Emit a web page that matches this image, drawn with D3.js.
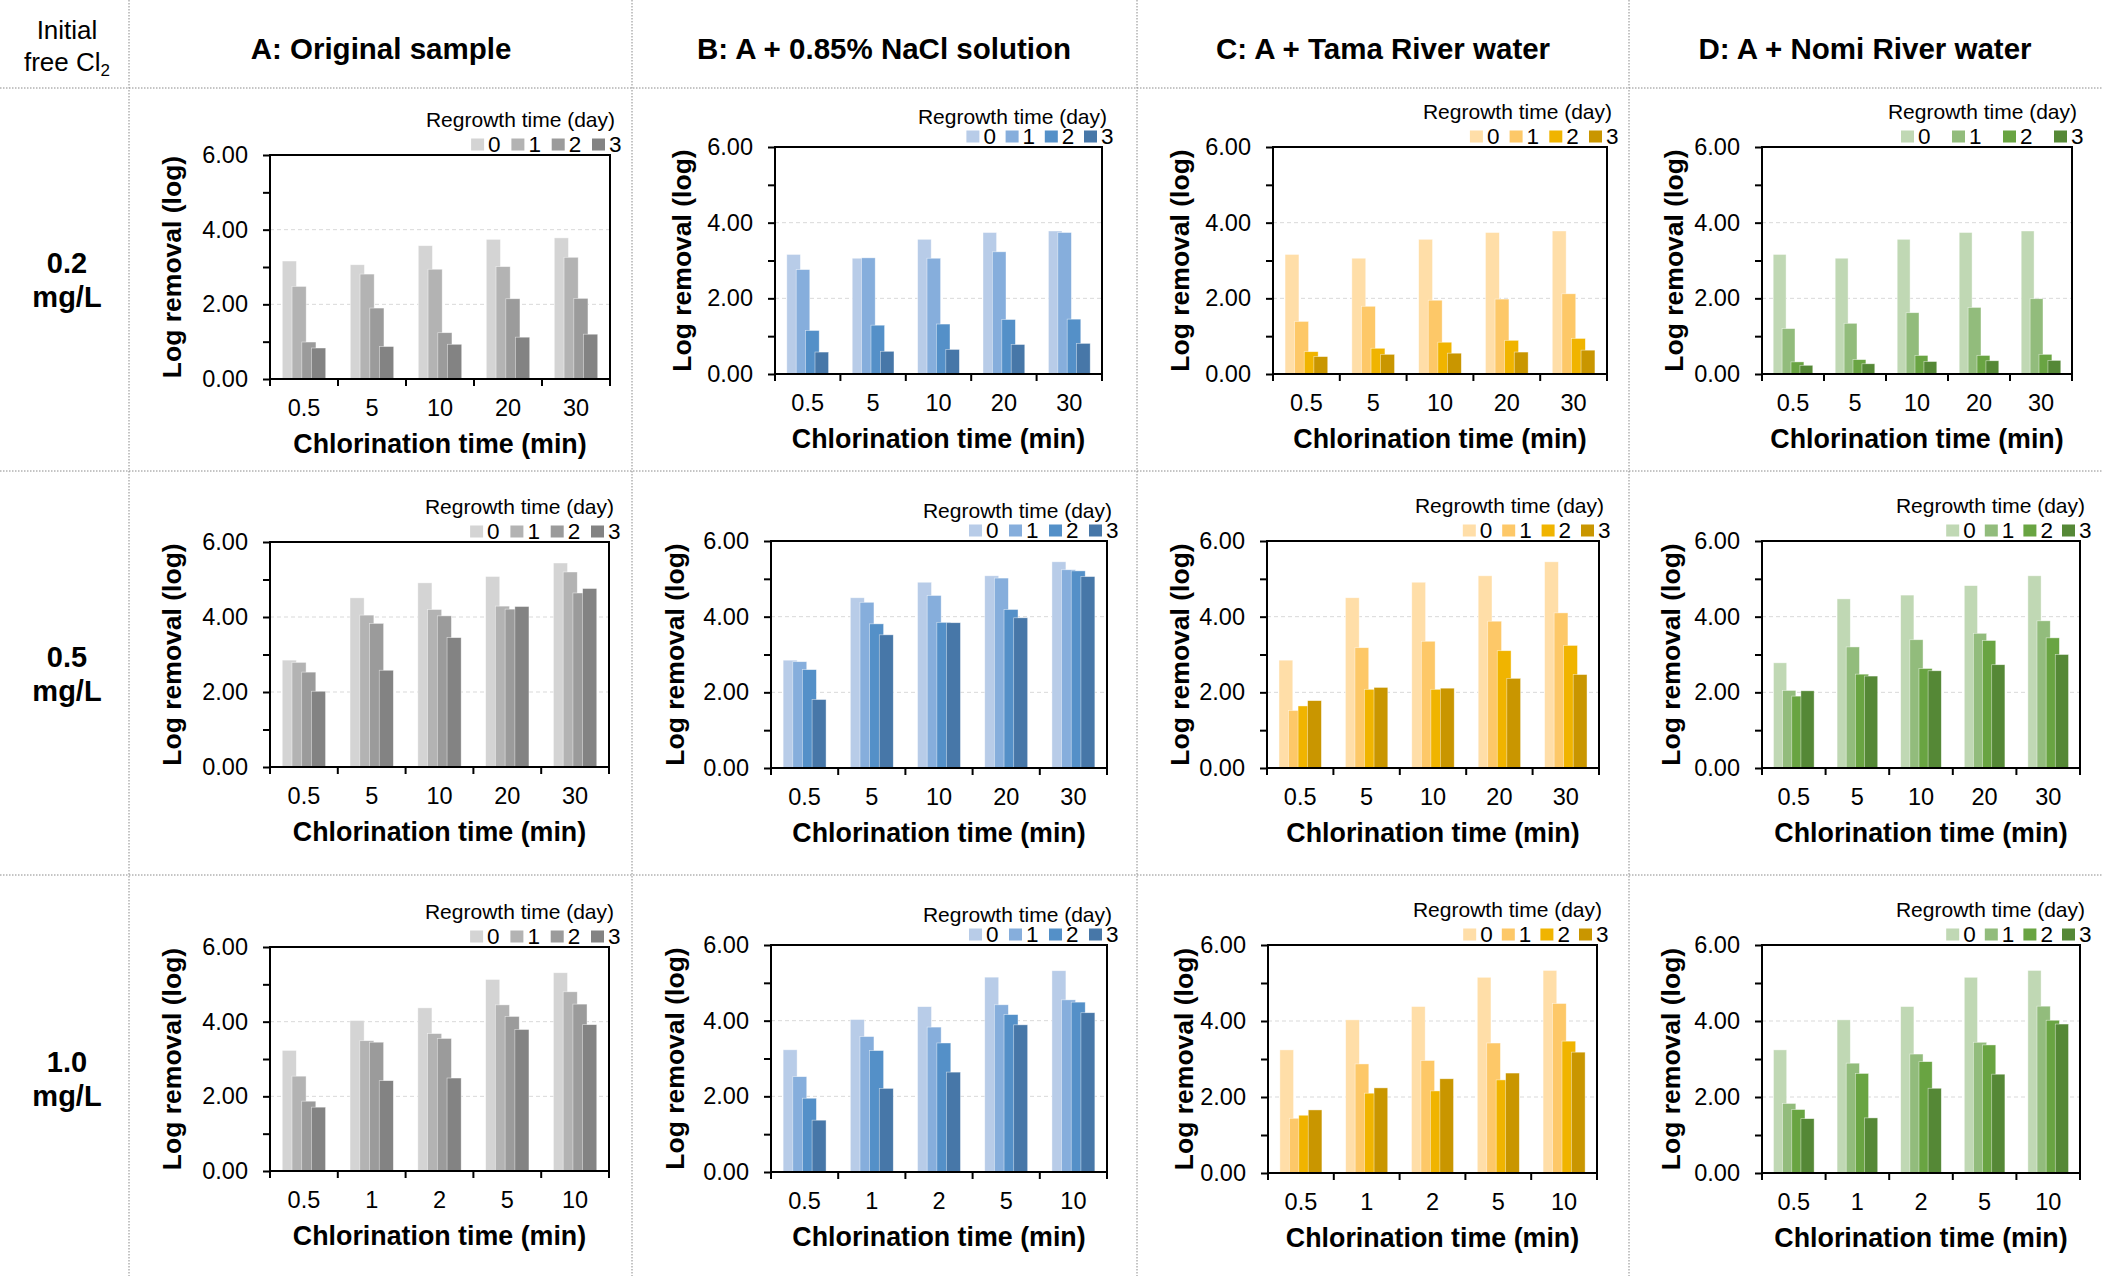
<!DOCTYPE html>
<html>
<head>
<meta charset="utf-8">
<script src="https://cdn.jsdelivr.net/npm/d3@7"></script>
<style>
  body { margin: 0; background: #fff; }
  svg { display: block; }
  text { font-family: "Liberation Sans", Arial, sans-serif; fill: #000; }
</style>
</head>
<body>
<svg id="fig" width="2116" height="1276"></svg>
<script>
// ---- categories and labels ----
const regrowthDays = ["0", "1", "2", "3"];
const chlorTimesLong = ["0.5", "5", "10", "20", "30"];   // 0.2 and 0.5 mg/L runs
const chlorTimesShort = ["0.5", "1", "2", "5", "10"];    // 1.0 mg/L runs
const sampleTitles = ["A: Original sample", "B: A + 0.85% NaCl solution",
                      "C: A + Tama River water", "D: A + Nomi River water"];
const doseLabels = ["0.2", "0.5", "1.0"];
const yTicks = [0, 1, 2, 3, 4, 5, 6];
const yGrid = [2, 4];

// ---- log removal: one row per regrowth day, one value per chlorination time ----
const original02 = [[3.16, 3.06, 3.57, 3.74, 3.78], [2.48, 2.81, 2.94, 3.01, 3.26],
                    [0.99, 1.90, 1.24, 2.15, 2.16], [0.83, 0.87, 0.93, 1.12, 1.20]];
const nacl02     = [[3.16, 3.06, 3.56, 3.74, 3.78], [2.76, 3.07, 3.06, 3.23, 3.74],
                    [1.15, 1.29, 1.32, 1.44, 1.45], [0.58, 0.60, 0.65, 0.78, 0.81]];
const tama02     = [[3.16, 3.06, 3.56, 3.74, 3.78], [1.39, 1.79, 1.95, 1.98, 2.12],
                    [0.59, 0.68, 0.84, 0.89, 0.94], [0.46, 0.52, 0.55, 0.58, 0.63]];
const nomi02     = [[3.16, 3.06, 3.56, 3.74, 3.78], [1.20, 1.34, 1.62, 1.76, 1.99],
                    [0.32, 0.38, 0.49, 0.49, 0.52], [0.23, 0.27, 0.33, 0.35, 0.36]];

const original05 = [[2.85, 4.51, 4.91, 5.08, 5.44], [2.79, 4.05, 4.20, 4.29, 5.20],
                    [2.53, 3.83, 4.03, 4.21, 4.64], [2.02, 2.58, 3.45, 4.28, 4.76]];
const nacl05     = [[2.85, 4.50, 4.91, 5.08, 5.45], [2.81, 4.38, 4.56, 5.02, 5.24],
                    [2.60, 3.81, 3.85, 4.19, 5.21], [1.81, 3.52, 3.84, 3.97, 5.06]];
const tama05     = [[2.85, 4.50, 4.91, 5.08, 5.45], [1.52, 3.18, 3.35, 3.88, 4.10],
                    [1.64, 2.08, 2.08, 3.10, 3.24], [1.78, 2.13, 2.11, 2.37, 2.47]];
const nomi05     = [[2.78, 4.47, 4.57, 4.82, 5.08], [2.05, 3.20, 3.39, 3.56, 3.89],
                    [1.90, 2.48, 2.63, 3.37, 3.44], [2.04, 2.43, 2.57, 2.73, 3.00]];

const original10 = [[3.23, 4.03, 4.37, 5.13, 5.31], [2.54, 3.49, 3.68, 4.45, 4.80],
                    [1.87, 3.45, 3.55, 4.14, 4.47], [1.71, 2.42, 2.49, 3.79, 3.92]];
const nacl10     = [[3.23, 4.03, 4.37, 5.15, 5.32], [2.52, 3.58, 3.83, 4.42, 4.55],
                    [1.95, 3.21, 3.41, 4.16, 4.49], [1.37, 2.21, 2.64, 3.89, 4.21]];
const tama10     = [[3.24, 4.03, 4.38, 5.15, 5.33], [1.44, 2.87, 2.96, 3.42, 4.46],
                    [1.52, 2.10, 2.16, 2.45, 3.47], [1.66, 2.24, 2.48, 2.63, 3.18]];
const nomi10     = [[3.24, 4.03, 4.38, 5.15, 5.33], [1.83, 2.89, 3.13, 3.44, 4.39],
                    [1.67, 2.62, 2.93, 3.37, 4.02], [1.43, 1.45, 2.23, 2.60, 3.92]];

// ---- shades for regrowth days 0..3 ----
const greyShades   = ["#d4d4d4", "#b3b3b3", "#9b9b9b", "#838383"];
const blueShades   = ["#b8cce8", "#86aedc", "#5490c8", "#4777a8"];
const yellowShades = ["#ffdea8", "#fdc868", "#f0b400", "#c99600"];
const greenShades  = ["#c0d8b4", "#92bc7c", "#69a442", "#558836"];

// ---- panel grid ----
const panelData = [
  [original02, nacl02, tama02, nomi02],
  [original05, nacl05, tama05, nomi05],
  [original10, nacl10, tama10, nomi10]
];
const panelTimes = [chlorTimesLong, chlorTimesLong, chlorTimesShort];
const columnShades = [greyShades, blueShades, yellowShades, greenShades];

// plot frames [left, top, right, bottom]
const frames = [
  [[270, 155, 610, 379], [775, 147, 1102, 374], [1273, 147, 1607, 374], [1762, 147, 2072, 374]],
  [[270, 542, 609, 767], [771, 541, 1107, 768], [1267, 541, 1599, 768], [1762, 541, 2080, 768]],
  [[270, 947, 609, 1171], [771, 945, 1107, 1172], [1268, 945, 1597, 1173], [1762, 945, 2080, 1173]]
];
const yTitleGap = [[89, 84, 84, 79], [89, 87, 78, 82], [89, 87, 75, 82]];
const legendStep = [[40.3, 39.2, 39.7, 51], [40.3, 40, 39.4, 38.6], [40.3, 40, 38.6, 38.6]];
const legendTitleLift = [28.5, 23.5, 28.5, 28.5];

const svg = d3.select("#fig");
const FONT = '"Liberation Sans", Arial, sans-serif';

// ---- cell separators ----
const sepColor = "#8a8a8a";
const vSeps = [129, 632, 1137, 1629];
const hSeps = [88, 471, 875];
svg.append("g").selectAll("line").data(vSeps).join("line")
  .attr("x1", d => d).attr("x2", d => d).attr("y1", 0).attr("y2", 1276)
  .attr("stroke", sepColor).attr("stroke-width", 1).attr("stroke-dasharray", "1.5,1.5");
svg.append("g").selectAll("line").data(hSeps).join("line")
  .attr("x1", 0).attr("x2", 2102).attr("y1", d => d).attr("y2", d => d)
  .attr("stroke", sepColor).attr("stroke-width", 1).attr("stroke-dasharray", "1.5,1.5");

// ---- header ----
const corner = svg.append("g").attr("font-size", 26).attr("text-anchor", "middle");
corner.append("text").attr("x", 67).attr("y", 39).text("Initial");
const cl = corner.append("text").attr("x", 67).attr("y", 71);
cl.append("tspan").text("free Cl");
cl.append("tspan").attr("font-size", 17).attr("dy", 5).text("2");

const colCenters = [381, 884, 1383, 1865];
svg.append("g").selectAll("text").data(sampleTitles).join("text")
  .attr("x", (d, i) => colCenters[i]).attr("y", 59)
  .attr("text-anchor", "middle").attr("font-size", 29.5).attr("font-weight", "bold")
  .text(d => d);

// ---- row labels ----
const rowMid = [280, 674, 1079];
doseLabels.forEach((lab, r) => {
  const t = svg.append("text").attr("text-anchor", "middle")
    .attr("font-size", 29).attr("font-weight", "bold");
  t.append("tspan").attr("x", 67).attr("y", rowMid[r] - 7).text(lab);
  t.append("tspan").attr("x", 67).attr("y", rowMid[r] + 27).text("mg/L");
});

// ---- one clustered bar panel ----
function drawPanel(r, c) {
  const [x0, y0, x1, y1] = frames[r][c];
  const cats = panelTimes[r];
  const series = panelData[r][c];
  const shades = columnShades[c];
  const g = svg.append("g");

  const x = d3.scaleBand().domain(cats).range([x0, x1]).padding(0);
  const y = d3.scaleLinear().domain([0, 6]).range([y1, y0]);

  // dashed gridlines
  g.append("g").selectAll("line").data(yGrid).join("line")
    .attr("x1", x0).attr("x2", x1).attr("y1", d => y(d)).attr("y2", d => y(d))
    .attr("stroke", "#d9d9d9").attr("stroke-width", 1).attr("stroke-dasharray", "4,3");

  // overlapping clustered bars, later days drawn on top
  const band = x.bandwidth();
  const barW = 0.208 * band;
  const step = 0.1437 * band;
  const offset = (band - (3 * step + barW)) / 2;
  series.forEach((vals, i) => {
    g.append("g").selectAll("rect")
      .data(vals.map((v, j) => ({ v, cat: cats[j] })))
      .join("rect")
      .attr("x", d => x(d.cat) + offset + i * step)
      .attr("width", barW)
      .attr("y", d => y(d.v))
      .attr("height", d => y(0) - y(d.v))
      .attr("fill", shades[i])
      .attr("stroke", "#ffffff").attr("stroke-width", 0.7).attr("stroke-opacity", 0.6);
  });

  // y axis: ticks every 1, labels every 2
  const yAxis = d3.axisLeft(y).tickValues(yTicks).tickSize(7).tickPadding(15)
    .tickFormat(d => d % 2 === 0 ? d3.format(".2f")(d) : "");
  const ya = g.append("g").attr("transform", `translate(${x0},0)`).call(yAxis);
  ya.select(".domain").remove();
  ya.selectAll("line").attr("stroke", "#000").attr("stroke-width", 2);
  ya.selectAll("text").attr("font-size", 23.5).attr("font-family", FONT).attr("fill", "#000");

  // x axis: ticks at category boundaries, labels centred in each band
  const xa = g.append("g").attr("transform", `translate(0,${y1})`)
    .call(d3.axisBottom(x).tickSize(0).tickPadding(20));
  xa.select(".domain").remove();
  xa.selectAll("text").attr("font-size", 23.5).attr("font-family", FONT).attr("fill", "#000");
  const bounds = cats.map(cv => x(cv)).concat([x1]);
  g.append("g").selectAll("line").data(bounds).join("line")
    .attr("x1", d => d).attr("x2", d => d).attr("y1", y1).attr("y2", y1 + 7)
    .attr("stroke", "#000").attr("stroke-width", 2);

  // plot frame
  g.append("rect").attr("x", x0).attr("y", y0).attr("width", x1 - x0).attr("height", y1 - y0)
    .attr("fill", "none").attr("stroke", "#000").attr("stroke-width", 2);

  // axis titles
  g.append("text")
    .attr("transform", `translate(${x0 - yTitleGap[r][c]},${(y0 + y1) / 2}) rotate(-90)`)
    .attr("text-anchor", "middle").attr("font-size", 26.5).attr("font-weight", "bold")
    .text("Log removal (log)");
  g.append("text")
    .attr("x", (x0 + x1) / 2).attr("y", y1 + 74)
    .attr("text-anchor", "middle").attr("font-size", 26.8).attr("font-weight", "bold")
    .text("Chlorination time (min)");

  // legend
  g.append("text").attr("x", x1 + 5).attr("y", y0 - legendTitleLift[c])
    .attr("text-anchor", "end").attr("font-size", 21)
    .text("Regrowth time (day)");
  const legEnd = x1 + 12;
  const items = g.append("g").selectAll("g").data(regrowthDays).join("g")
    .attr("transform", (d, i) => `translate(${legEnd - 30 - (3 - i) * legendStep[r][c]},${y0})`);
  items.append("rect").attr("x", 0).attr("y", -16.5).attr("width", 13).attr("height", 12)
    .attr("fill", (d, i) => shades[i]);
  items.append("text").attr("x", 17).attr("y", -3).attr("font-size", 22.5).text(d => d);
}

for (let r = 0; r < 3; r++) {
  for (let c = 0; c < 4; c++) drawPanel(r, c);
}
</script>
</body>
</html>
